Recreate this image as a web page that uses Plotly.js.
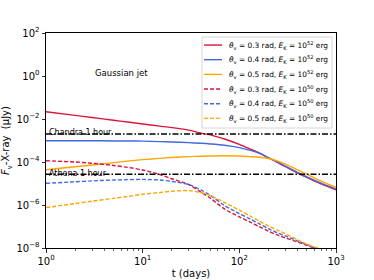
<!DOCTYPE html>
<html>
<head>
<meta charset="utf-8">
<script src="https://cdn.plot.ly/plotly-3.0.1.min.js"></script>
<style>html,body{margin:0;padding:0;background:#fff;}#chart{width:374px;height:280px;}</style>
</head>
<body>
<div id="chart"></div>
<script>
// time in days
const tDays = [1, 2, 3, 5, 7, 10, 15, 20, 30, 40, 50, 70, 100, 130, 160, 200, 250, 300, 400, 500, 700, 1000];

// E_K = 1e52 erg (solid)
const red52 = [2.19e-2, 1.48e-2, 1.17e-2, 8.71e-3, 7.24e-3, 5.89e-3, 4.68e-3, 3.98e-3, 3.02e-3, 2.19e-3, 1.82e-3, 1.17e-3, 6.61e-4, 3.98e-4, 2.63e-4, 1.55e-4, 9.33e-5, 6.03e-5, 3.02e-5, 1.91e-5, 9.55e-6, 5.01e-6];
const blue52 = [9.77e-4, 9.77e-4, 9.77e-4, 9.55e-4, 9.55e-4, 9.33e-4, 8.91e-4, 8.51e-4, 7.94e-4, 7.41e-4, 6.92e-4, 6.03e-4, 4.68e-4, 3.47e-4, 2.57e-4, 1.58e-4, 1.00e-4, 6.46e-5, 3.31e-5, 2.04e-5, 1.05e-5, 5.62e-6];
const orange52 = [4.37e-5, 6.03e-5, 7.24e-5, 9.33e-5, 1.10e-4, 1.29e-4, 1.48e-4, 1.62e-4, 1.78e-4, 1.86e-4, 1.91e-4, 1.95e-4, 1.91e-4, 1.78e-4, 1.66e-4, 1.45e-4, 1.10e-4, 7.94e-5, 4.27e-5, 2.69e-5, 1.29e-5, 6.61e-6];

// E_K = 1e50 erg (dashed)
const red50 = [1.15e-4, 1.00e-4, 8.71e-5, 6.92e-5, 5.62e-5, 4.27e-5, 2.63e-5, 1.66e-5, 8.91e-6, 3.98e-6, 2.09e-6, 6.61e-7, 2.82e-7, 1.58e-7, 1.00e-7, 6.03e-8, 3.98e-8, 2.95e-8, 1.91e-8, 1.32e-8, 7.59e-9, 3.98e-9];
const blue50 = [1.02e-5, 1.20e-5, 1.32e-5, 1.45e-5, 1.51e-5, 1.55e-5, 1.45e-5, 1.26e-5, 8.91e-6, 5.01e-6, 2.82e-6, 9.55e-7, 3.98e-7, 2.19e-7, 1.35e-7, 7.94e-8, 5.01e-8, 3.63e-8, 2.14e-8, 1.41e-8, 7.94e-9, 4.17e-9];
const orange50 = [7.59e-7, 1.17e-6, 1.51e-6, 2.04e-6, 2.51e-6, 3.16e-6, 3.80e-6, 4.37e-6, 4.68e-6, 3.80e-6, 2.75e-6, 1.32e-6, 5.75e-7, 3.02e-7, 1.82e-7, 1.05e-7, 6.61e-8, 4.57e-8, 2.40e-8, 1.51e-8, 8.71e-9, 4.68e-9];

// sensitivity limits
const limitX = [1, 1000];
const chandraLimit = [2.0e-3, 2.0e-3];
const athenaLimit = [2.7e-5, 2.7e-5];

const seriesNames = [
  '<i>θ</i><sub>v</sub> = 0.3 rad, <i>E</i><sub>K</sub> = 10<sup>52</sup> erg',
  '<i>θ</i><sub>v</sub> = 0.4 rad, <i>E</i><sub>K</sub> = 10<sup>52</sup> erg',
  '<i>θ</i><sub>v</sub> = 0.5 rad, <i>E</i><sub>K</sub> = 10<sup>52</sup> erg',
  '<i>θ</i><sub>v</sub> = 0.3 rad, <i>E</i><sub>K</sub> = 10<sup>50</sup> erg',
  '<i>θ</i><sub>v</sub> = 0.4 rad, <i>E</i><sub>K</sub> = 10<sup>50</sup> erg',
  '<i>θ</i><sub>v</sub> = 0.5 rad, <i>E</i><sub>K</sub> = 10<sup>50</sup> erg'
];

const xTickVals = [1, 10, 100, 1000];
const xTickText = ['10<sup>0</sup>', '10<sup>1</sup>', '10<sup>2</sup>', '10<sup>3</sup>'];
const yTickVals = [1e-8, 1e-6, 1e-4, 1e-2, 1, 100];
const yTickText = ['10<sup>−8</sup>', '10<sup>−6</sup>', '10<sup>−4</sup>', '10<sup>−2</sup>', '10<sup>0</sup>', '10<sup>2</sup>'];
const xMinorVals = [2,3,4,5,6,7,8,9,20,30,40,50,60,70,80,90,200,300,400,500,600,700,800,900];

const RED = '#dc143c', BLUE = '#4169e1', ORANGE = '#ffa500';
const DASH = '4px,2px';
const DASHDOT = '6px,2px,1.5px,2px';
const ys = [red52, blue52, orange52, red50, blue50, orange50];
const cols = [RED, BLUE, ORANGE, RED, BLUE, ORANGE];
const dashes = ['solid', 'solid', 'solid', DASH, DASH, DASH];

const traces = ys.map((y, i) => ({
  x: tDays, y: y, type: 'scatter', mode: 'lines', name: seriesNames[i], showlegend: false,
  line: {color: cols[i], width: 1.4, dash: dashes[i], shape: 'spline', smoothing: 0.8}
}));
traces.push({x: limitX, y: chandraLimit, type: 'scatter', mode: 'lines', showlegend: false, hoverinfo: 'skip',
  line: {color: '#000', width: 1.4, dash: DASHDOT}});
traces.push({x: limitX, y: athenaLimit, type: 'scatter', mode: 'lines', showlegend: false, hoverinfo: 'skip',
  line: {color: '#000', width: 1.4, dash: DASHDOT}});

const FONT = 'DejaVu Sans, sans-serif';

// legend drawn in paper coordinates (matplotlib-style compact legend)
const legX0 = 0.538, legX1 = 0.986, legY0 = 0.558, legY1 = 0.981;
const rowTop = 0.944, rowStep = 0.0682;
const sampleX0 = 0.545, sampleX1 = 0.607, textX = 0.625;
const shapes = [{type: 'rect', xref: 'paper', yref: 'paper', x0: legX0, x1: legX1, y0: legY0, y1: legY1,
  fillcolor: 'rgba(255,255,255,0.85)', line: {color: '#d6d6d6', width: 1}, layer: 'above'}];
const annotations = [
  {xref: 'paper', yref: 'paper', x: 0.262, y: 0.815, xanchor: 'center', yanchor: 'middle',
   text: 'Gaussian jet', showarrow: false, font: {family: FONT, size: 8.5, color: '#000'}},
  {xref: 'paper', yref: 'paper', x: 0.003, y: 0.505, xanchor: 'left', yanchor: 'bottom',
   text: 'Chandra 1 hour', showarrow: false, font: {family: FONT, size: 8, color: '#000'}},
  {xref: 'paper', yref: 'paper', x: 0.003, y: 0.318, xanchor: 'left', yanchor: 'bottom',
   text: 'Athena 1 hour', showarrow: false, font: {family: FONT, size: 8, color: '#000'}}
];
seriesNames.forEach((nm, i) => {
  const yy = rowTop - i * rowStep;
  shapes.push({type: 'line', xref: 'paper', yref: 'paper', x0: sampleX0, x1: sampleX1, y0: yy, y1: yy,
    line: {color: cols[i], width: 1.4, dash: dashes[i]}, layer: 'above'});
  annotations.push({xref: 'paper', yref: 'paper', x: textX, y: yy, xanchor: 'left', yanchor: 'middle',
    text: nm, showarrow: false, font: {family: FONT, size: 7.4, color: '#000'}});
});

const layout = {
  width: 374, height: 280,
  margin: {l: 46, r: 38, t: 33, b: 32},
  paper_bgcolor: '#fff', plot_bgcolor: '#fff',
  font: {family: FONT, size: 10, color: '#000'},
  showlegend: false,
  xaxis: {
    type: 'log', range: [0, 3],
    tickmode: 'array', tickvals: xTickVals, ticktext: xTickText,
    ticks: 'outside', ticklen: 3.5, tickwidth: 0.8, tickcolor: '#000',
    minor: {tickmode: 'array', tickvals: xMinorVals, ticks: 'outside', ticklen: 2, tickwidth: 0.6, tickcolor: '#000', showgrid: false},
    showline: true, linecolor: '#000', linewidth: 1, mirror: true,
    showgrid: false, zeroline: false,
    tickfont: {family: FONT, size: 10},
    title: {text: 't (days)', font: {family: FONT, size: 10}, standoff: 4}
  },
  yaxis: {
    type: 'log', range: [-8, 2],
    tickmode: 'array', tickvals: yTickVals, ticktext: yTickText,
    ticks: 'outside', ticklen: 3.5, tickwidth: 0.8, tickcolor: '#000',
    showline: true, linecolor: '#000', linewidth: 1, mirror: true,
    showgrid: false, zeroline: false,
    tickfont: {family: FONT, size: 10},
    title: {text: '<i>F</i><sub>ν</sub>-X-ray  (μJy)', font: {family: FONT, size: 10}, standoff: 4}
  },
  shapes: shapes,
  annotations: annotations
};

Plotly.newPlot('chart', traces, layout, {displayModeBar: false, staticPlot: true});
</script>
</body>
</html>
